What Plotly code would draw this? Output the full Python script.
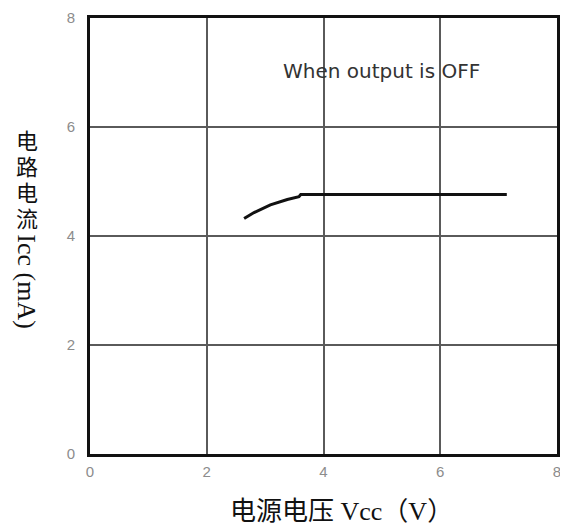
import plotly.graph_objects as go

# Data
vcc = [2.64, 2.81, 3.09, 3.38, 3.58, 3.61, 7.14]
icc = [4.32, 4.43, 4.57, 4.67, 4.72, 4.76, 4.76]
tick_vals = [0, 2, 4, 6, 8]
tick_text = ["0", "2", "4", "6", "8"]
note_text = "When output is OFF"
x_title = "电源电压 Vcc（V）"
y_title_cjk = ["电", "路", "电", "流"]
y_title_latin = "Icc (mA)"

fig = go.Figure()
fig.add_trace(go.Scatter(x=vcc, y=icc, mode="lines",
                         line=dict(color="#111111", width=3),
                         showlegend=False, hoverinfo="skip"))

axis_common = dict(range=[0, 8], tickvals=tick_vals, ticktext=tick_text,
                   showgrid=True, gridcolor="#5a5a5a", gridwidth=1.5,
                   showline=True, linecolor="#111111", linewidth=3, mirror=True,
                   zeroline=False, ticks="outside", tickcolor="rgba(0,0,0,0)",
                   automargin=False, ticklabeloverflow="allow",
                   tickfont=dict(family="Liberation Sans, Arial", size=15, color="#8c8c8c"))

fig.update_xaxes(**axis_common, ticklen=2)
fig.update_yaxes(**axis_common, ticklen=9)

annotations = [
    dict(x=5.0, y=7.03, xref="x", yref="y", text=note_text, showarrow=False,
         font=dict(family="DejaVu Sans", size=20, color="#333333"),
         xanchor="center", yanchor="middle"),
    dict(x=0.5385, y=-0.132, xref="paper", yref="paper", text=x_title, showarrow=False,
         font=dict(family="Liberation Serif, Noto Sans CJK SC", size=26, color="#111111"),
         xanchor="center", yanchor="middle"),
    dict(x=-0.135, y=0.394, xref="paper", yref="paper", text=y_title_latin, showarrow=False,
         textangle=90,
         font=dict(family="Liberation Serif, Times New Roman", size=26, color="#111111"),
         xanchor="center", yanchor="middle"),
]
# upright stacked CJK characters of the y title (page-pixel centres converted to paper units)
char_centers_px = [137, 163, 189, 215]
for ch, py in zip(y_title_cjk, char_centers_px):
    annotations.append(dict(x=-0.135, y=(454 - py) / 439, xref="paper", yref="paper",
                            text=ch, showarrow=False,
                            font=dict(family="Noto Sans CJK SC", size=22, color="#111111"),
                            xanchor="center", yanchor="middle"))

# page body has an 8px margin, so the figure is 8px smaller on each axis
fig.update_layout(width=560, height=522,
                  margin=dict(l=82, r=11, t=10, b=76, autoexpand=False),
                  paper_bgcolor="white", plot_bgcolor="white",
                  annotations=annotations)

fig.write_html("out.html")
